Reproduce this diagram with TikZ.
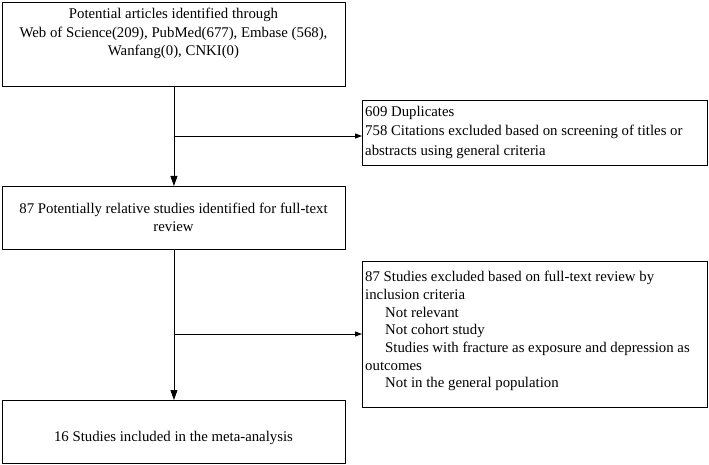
\documentclass[tikz,border=0pt]{standalone}
\usepackage{fontspec}
\setmainfont{Liberation Serif}
\usetikzlibrary{arrows.meta}
\begin{document}
\begin{tikzpicture}[x=1pt,y=-1pt,
  box/.style={draw, line width=0.9pt, anchor=north west, inner sep=0pt},
  txt/.style={inner sep=0pt, font={\fontsize{14.8}{18.5}\selectfont}},
  arr/.style={line width=0.9pt, -{Triangle[length=10pt,width=7pt]}},
  arrs/.style={line width=0.9pt, -{Triangle[length=7pt,width=5pt]}},
  ln/.style={line width=0.9pt}]
\useasboundingbox (0,0) rectangle (709,465);
% left column boxes
\node[box, minimum width=343pt, minimum height=84pt] (b1) at (2,2) {};
\node[box, minimum width=343pt, minimum height=63pt] (b2) at (2,186) {};
\node[box, minimum width=343pt, minimum height=63pt] (b3) at (2,400) {};
% right column boxes
\node[box, minimum width=345pt, minimum height=65pt] (r1) at (362,100) {};
\node[box, minimum width=345pt, minimum height=146pt] (r2) at (362,261) {};
% texts
\node[txt, anchor=north, align=center] (t1) at (173.5,8)
  {Potential articles identified through\\Web of Science(209), PubMed(677), Embase (568),\\Wanfang(0), CNKI(0)};
\node[txt, align=center] (t2) at (173.5,217.5)
  {87 Potentially relative studies identified for full-text\\review};
\node[txt] (t3) at (173.5,438) {16 Studies included in the meta-analysis};
\node[txt, anchor=north west, align=left, font={\fontsize{14.8}{19.5}\selectfont}] (t4) at (365,106)
  {609 Duplicates\\758 Citations excluded based on screening of titles or\\abstracts using general criteria};
\node[txt, anchor=north west, align=left, font={\fontsize{14.8}{17.7}\selectfont}] (t5) at (365,271)
  {87 Studies excluded based on full-text review by\\inclusion criteria\\\hspace*{20pt}Not relevant\\\hspace*{20pt}Not cohort study\\\hspace*{20pt}Studies with fracture as exposure and depression as\\outcomes\\\hspace*{20pt}Not in the general population};
% connectors
\coordinate (j1) at (173.5,136);
\coordinate (j2) at (173.5,334);
\draw[arr] (b1.south) -- (b2.north);
\draw[arr] (b2.south) -- (b3.north);
\draw[arrs] (j1) -- (j1 -| r1.west);
\draw[arrs] (j2) -- (j2 -| r2.west);
\end{tikzpicture}
\end{document}
